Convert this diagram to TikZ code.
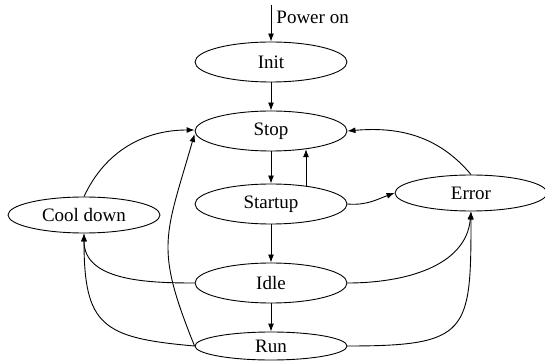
\documentclass[tikz,border=0pt]{standalone}
\usepackage{fontspec}
\setmainfont{Liberation Serif}
\usetikzlibrary{shapes.geometric, arrows.meta}

\begin{document}
\begin{tikzpicture}
  [
    x=1pt, y=1pt,
    >={Latex[length=8pt, width=6pt]},
    State/.style={ellipse, draw=black, line width=0.9pt, inner sep=0pt,
      minimum width=152pt, minimum height=40pt, font=\fontsize{19}{22}\selectfont},
    Low/.style={State, minimum height=36pt},
    Line/.style={->, draw, line width=0.9pt}
  ]
  \useasboundingbox (0, 0) rectangle (545, 361);
  % Nodes
  \coordinate (power) at (271, 356);
  \node[State] (init) at (271, 299) {Init};
  \node[State] (stop) at (271, 230) {Stop};
  \node[State] (startup) at (271, 157) {Startup};
  \node[State] (idle) at (271, 78) {Idle};
  \node[State, minimum height=28pt] (run) at (271, 15) {Run};
  \node[Low] (cool) at (84, 146) {Cool down};
  \node[Low] (error) at (471, 168) {Error};
  % Lines
  \path [Line] (power) -- node[pos=0.35, right, inner sep=5pt, font=\fontsize{19}{22}\selectfont] {Power on} (init);
  \path [Line] (init) -- (stop);
  \path [Line] (stop) -- (startup);
  \path [Line] ([xshift=35pt, yshift=-2.3pt]startup.north) -- ([xshift=35pt, yshift=2.3pt]stop.south);
  \path [Line] (startup) -- (idle);
  \path [Line] (idle) -- (run);
  \path [Line] (startup.east) to[out=-5, in=200] (error.west);
  \path [Line] (error.north) to[out=130, in=5] (stop.east);
  \path [Line] (cool.north) to[out=65, in=180] ([yshift=1pt]stop.west);
  \path [Line] (run.west) to[out=112, in=254, looseness=1.3] ([yshift=-3pt]stop.west);
  \path [Line] (idle.west) to[out=180, in=-90] (cool.south);
  \path [Line] (run.west) to[out=175, in=-90, looseness=1.5] (cool.south);
  \path [Line] (idle.east) to[out=0, in=-95] (error.south);
  \path [Line] (run.east) to[out=0, in=-90, looseness=1.7] (error.south);
\end{tikzpicture}
\end{document}
